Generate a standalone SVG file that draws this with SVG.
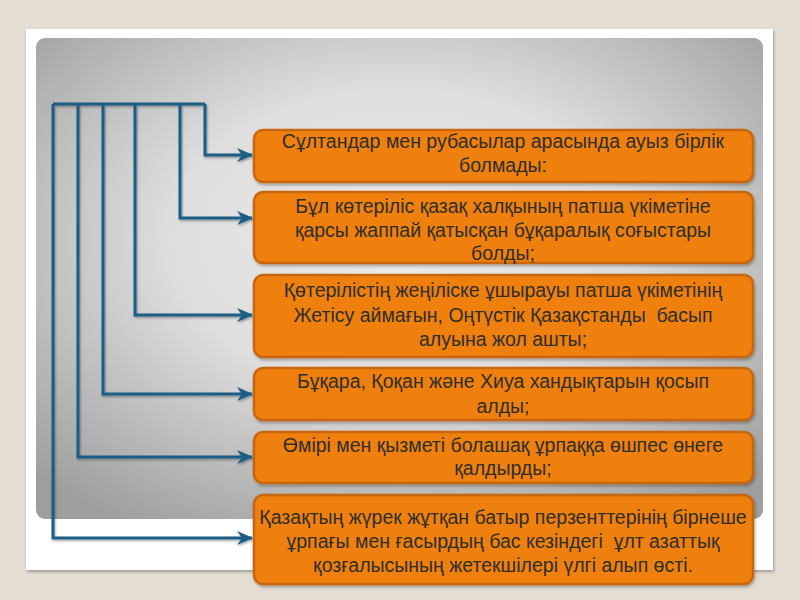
<svg xmlns="http://www.w3.org/2000/svg" width="800" height="600" viewBox="0 0 800 600">
<defs>
<radialGradient id="panelGrad" cx="0.5" cy="0.42" r="0.7">
<stop offset="0" stop-color="#ececec"/>
<stop offset="0.45" stop-color="#dedede"/>
<stop offset="1" stop-color="#9e9e9e"/>
</radialGradient>
<filter id="frameShadow" x="-5%" y="-5%" width="110%" height="110%">
<feDropShadow dx="1" dy="2" stdDeviation="1.5" flood-color="#000" flood-opacity="0.3"/>
</filter>
<filter id="lineShadow" x="-10%" y="-10%" width="120%" height="120%">
<feDropShadow dx="1" dy="1.5" stdDeviation="1" flood-color="#000" flood-opacity="0.35"/>
</filter>
<filter id="boxShadow" x="-5%" y="-10%" width="110%" height="130%">
<feDropShadow dx="1" dy="2" stdDeviation="1.5" flood-color="#000" flood-opacity="0.3"/>
</filter>
<marker id="arrow" viewBox="0 0 16 14" refX="15" refY="7" markerWidth="16" markerHeight="14" markerUnits="userSpaceOnUse" orient="auto">
<path d="M0,0 L16,7 L0,14 L5,7 Z" fill="#1f5d86"/>
</marker>
<style>
.box { fill: #ef800e; stroke: #c7660a; stroke-width: 2.5; filter: url(#boxShadow); }
.txt { font-family: "Liberation Sans", Arial, sans-serif; font-size: 19.5px; fill: #2e2e2e; text-anchor: middle; white-space: pre; }
.conn { fill: none; stroke: #1f5d86; stroke-width: 3; stroke-linejoin: miter; }
</style>
</defs>
<rect x="0" y="0" width="800" height="600" fill="#e4ddd1"/>
<rect x="26" y="29" width="747" height="541" fill="#ffffff" filter="url(#frameShadow)"/>
<rect x="36" y="38" width="727" height="481" rx="9" ry="9" fill="url(#panelGrad)"/>

<g id="connectors" filter="url(#lineShadow)">
<path class="conn" d="M53,104 H205"/>
<path class="conn" d="M205,104 V155 H252" marker-end="url(#arrow)"/>
<path class="conn" d="M180,104 V218 H252" marker-end="url(#arrow)"/>
<path class="conn" d="M135,104 V315 H252" marker-end="url(#arrow)"/>
<path class="conn" d="M103,104 V394 H252" marker-end="url(#arrow)"/>
<path class="conn" d="M78,104 V457 H252" marker-end="url(#arrow)"/>
<path class="conn" d="M53,104 V538 H252" marker-end="url(#arrow)"/>
</g>

<g id="node1">
<rect class="box" x="254" y="130" width="499" height="52" rx="9"/>
<text class="txt" x="503" y="148">Сұлтандар мен рубасылар арасында ауыз бірлік</text>
<text class="txt" x="503" y="172">болмады:</text>
</g>
<g id="node2">
<rect class="box" x="254" y="192" width="499" height="71" rx="9"/>
<text class="txt" x="503" y="213">Бұл көтеріліс қазақ халқының патша үкіметіне</text>
<text class="txt" x="503" y="237">қарсы жаппай қатысқан бұқаралық соғыстары</text>
<text class="txt" x="503" y="260">болды;</text>
</g>
<g id="node3">
<rect class="box" x="254" y="275" width="499" height="82" rx="9"/>
<text class="txt" x="503" y="297">Қөтерілістің жеңіліске ұшырауы патша үкіметінің</text>
<text class="txt" x="503" y="322">Жетісу аймағын, Оңтүстік Қазақстанды  басып</text>
<text class="txt" x="503" y="346">алуына жол ашты;</text>
</g>
<g id="node4">
<rect class="box" x="254" y="368" width="499" height="52" rx="9"/>
<text class="txt" x="503" y="388">Бұқара, Қоқан және Хиуа хандықтарын қосып</text>
<text class="txt" x="503" y="413">алды;</text>
</g>
<g id="node5">
<rect class="box" x="254" y="432" width="499" height="51" rx="9"/>
<text class="txt" x="503" y="452">Өмірі мен қызметі болашақ ұрпаққа өшпес өнеге</text>
<text class="txt" x="503" y="475">қалдырды;</text>
</g>
<g id="node6">
<rect class="box" x="254" y="495" width="499" height="89" rx="9"/>
<text class="txt" x="503" y="524">Қазақтың жүрек жұтқан батыр перзенттерінің бірнеше</text>
<text class="txt" x="503" y="548">ұрпағы мен ғасырдың бас кезіндегі  ұлт азаттық</text>
<text class="txt" x="503" y="572">қозғалысының жетекшілері үлгі алып өсті.</text>
</g>
</svg>
